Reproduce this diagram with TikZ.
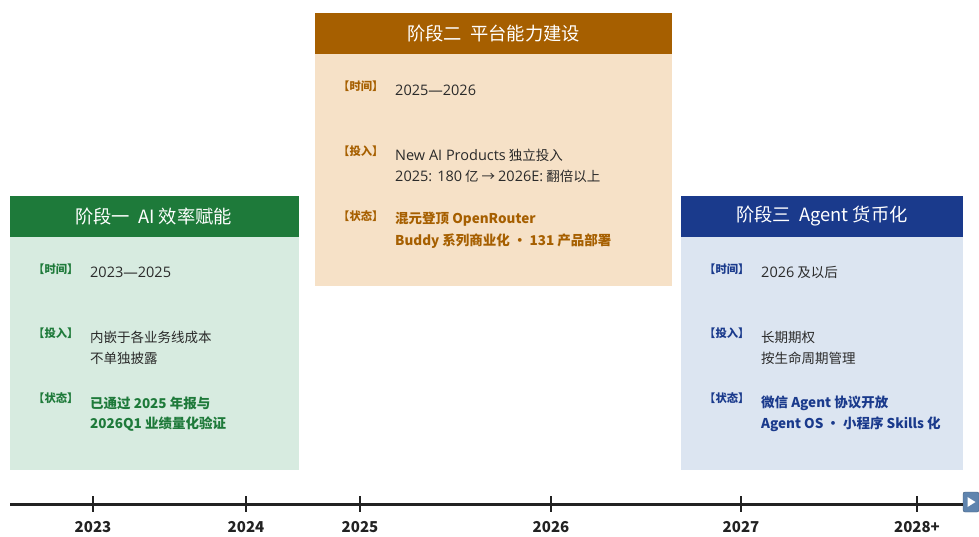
\documentclass[tikz,border=0pt]{standalone}
\usepackage{fontspec}
\usetikzlibrary{calc}
\setmainfont{Noto Sans CJK SC}
\newfontfamily\lat{Open Sans}
\newcommand\LL[1]{{\lat\fontsize{14.5}{16}\selectfont #1}}
\definecolor{gH}{HTML}{1E7A3A}
\definecolor{gB}{HTML}{D7EBE0}
\definecolor{bH}{HTML}{A65F00}
\definecolor{bB}{HTML}{F6E1C7}
\definecolor{uH}{HTML}{1A3A8C}
\definecolor{uB}{HTML}{DCE5F1}
\definecolor{txt}{HTML}{2A2A2A}
\definecolor{axis}{HTML}{222222}
\definecolor{icon}{HTML}{5F84AE}
\tikzset{
  hdr/.style={text=white, font=\fontsize{18.3}{21}\selectfont},
  lbl/.style={anchor=west, inner sep=0pt, font=\fontsize{11.3}{13}\selectfont\bfseries},
  val/.style={anchor=west, inner sep=0pt, text=txt, font=\fontsize{13.5}{16}\selectfont},
  sts/.style={anchor=west, inner sep=0pt, font=\fontsize{13.5}{16}\selectfont\bfseries},
  tick/.style={draw=axis, line width=1.8pt},
  yr/.style={text=axis, font=\fontsize{15}{17}\selectfont\bfseries},
}
\begin{document}
\begin{tikzpicture}[x=1pt,y=-1pt]
\useasboundingbox (0,0) rectangle (979,536);
% ---------- Box 1
\fill[gB] (10,237) rectangle (299,470);
\fill[gH] (10,196) rectangle (299,237);
\node[hdr] (h1) at (153.5,216.5) {阶段一\ \ AI 效率赋能};
\node[lbl,text=gH] (l1a) at (33,269) {【时间】};
\node[val] (v1a) at (90,272) {\LL{2023—2025}};
\node[lbl,text=gH] (l1b) at (33,333) {【投入】};
\node[val] (v1b) at (90,337) {内嵌于各业务线成本};
\node[val] (v1c) at (90,358) {不单独披露};
\node[lbl,text=gH] (l1c) at (33,398) {【状态】};
\node[sts,text=gH] (v1d) at (90,403) {已通过 2025 年报与};
\node[sts,text=gH] (v1e) at (90,424) {2026Q1 业绩量化验证};
% ---------- Box 2
\fill[bB] (315,54) rectangle (672,286);
\fill[bH] (315,13) rectangle (672,54);
\node[hdr] (h2) at (493.5,33.5) {阶段二\ \ 平台能力建设};
\node[lbl,text=bH] (l2a) at (338,86) {【时间】};
\node[val] (v2a) at (395,90) {\LL{2025—2026}};
\node[lbl,text=bH] (l2b) at (338,151) {【投入】};
\node[val] (v2b) at (395,155) {\LL{New AI Products} 独立投入};
\node[val] (v2c) at (395,176) {\LL{2025: 180} 亿 → \LL{2026E:} 翻倍以上};
\node[lbl,text=bH] (l2c) at (338,216) {【状态】};
\node[sts,text=bH] (v2d) at (395,219) {混元登顶 OpenRouter};
\node[sts,text=bH] (v2e) at (395,241) {Buddy 系列商业化 · 131 产品部署};
% ---------- Box 3
\fill[uB] (681,237) rectangle (963,470);
\fill[uH] (681,196) rectangle (963,237);
\node[hdr] (h3) at (822,216.5) {阶段三\ \ Agent 货币化};
\node[lbl,text=uH] (l3a) at (704,269) {【时间】};
\node[val] (v3a) at (761,272) {\LL{2026} 及以后};
\node[lbl,text=uH] (l3b) at (704,333) {【投入】};
\node[val] (v3b) at (761,337) {长期期权};
\node[val] (v3c) at (761,358) {按生命周期管理};
\node[lbl,text=uH] (l3c) at (704,398) {【状态】};
\node[sts,text=uH] (v3d) at (761,403) {微信 Agent 协议开放};
\node[sts,text=uH] (v3e) at (761,424) {Agent OS · 小程序 Skills 化};
% ---------- Axis
\coordinate (a0) at (10,504);
\node[draw=icon!70!black, fill=icon, rounded corners=2pt, minimum width=16pt, minimum height=20pt, inner sep=0pt] (end) at (971,502) {};
\fill[white] ($(end.center)+(-3.5,-5)$) -- ($(end.center)+(4.5,0)$) -- ($(end.center)+(-3.5,5)$) -- cycle;
\draw[axis, line width=3pt] (a0) -- (end.west |- a0);
\foreach \x/\y [count=\i] in {93/2023,246/2024,360/2025,551/2026,741/2027,917/2028+}{
  \draw[tick] (\x,496) -- (\x,512);
  \node[yr] (y\i) at (\x,527) {\y};
}
\end{tikzpicture}
\end{document}
